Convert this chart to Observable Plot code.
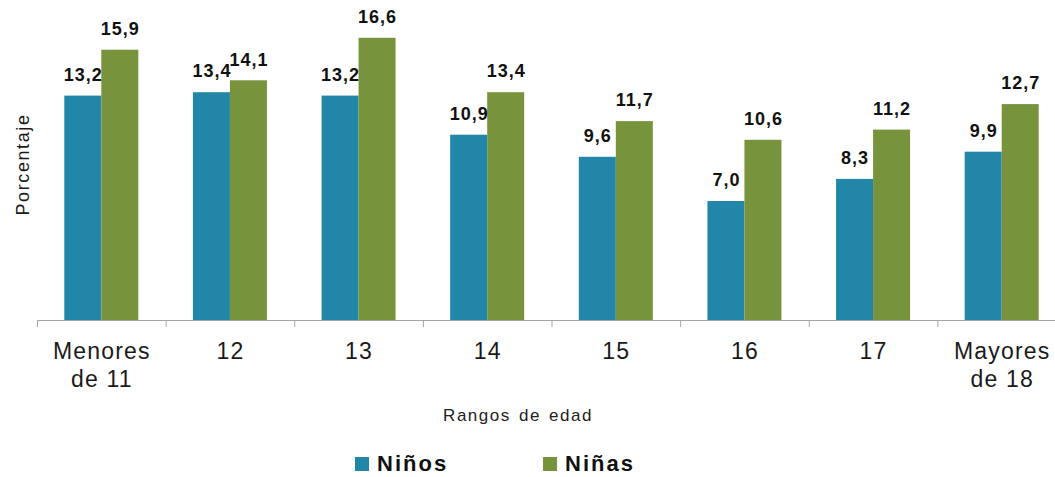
<!DOCTYPE html>
<html>
<head>
<meta charset="utf-8">
<script src="https://cdn.jsdelivr.net/npm/d3@7"></script>
<script src="https://cdn.jsdelivr.net/npm/@observablehq/plot@0.6"></script>
<style>
  html, body { margin: 0; padding: 0; background: #fff; overflow: hidden; }
  #wrap { position: relative; width: 1055px; height: 477px; overflow: hidden; font-family: "Liberation Sans", Arial, sans-serif; }
  #wrap svg { overflow: hidden; }
  #wrap svg g[font-size="23"] { letter-spacing: 1.2px; }
  #wrap svg g[font-weight="bold"] { letter-spacing: 1px; }
  #wrap svg text[transform*="rotate"] { letter-spacing: 1.6px; font-size: 18px; }
  #xtitle { position: absolute; left: 0; width: 1036px; top: 406px; text-align: center; font-size: 17px; letter-spacing: 1.5px; word-spacing: 2px; color: #222; }
  .leg { position: absolute; top: 451px; display: flex; align-items: center; font-size: 22px; font-weight: bold; letter-spacing: 2px; color: #111; }
  .sw { width: 14px; height: 14px; margin-right: 8px; }
</style>
</head>
<body>
<div id="wrap">
  <div id="chart"></div>
  <div id="xtitle"></div>
  <div id="legend"></div>
</div>
<script>
const categories = ["Menores\nde 11", "12", "13", "14", "15", "16", "17", "Mayores\nde 18"];
const series = ["Niños", "Niñas"];
const ninos = [13.2, 13.4, 13.2, 10.9, 9.6, 7.0, 8.3, 9.9];
const ninas = [15.9, 14.1, 16.6, 13.4, 11.7, 10.6, 11.2, 12.7];
const colors = ["#2286a9", "#77933c"];
const xTitle = "Rangos de edad";
const yTitle = "Porcentaje";

const rows = categories.flatMap((c, i) => [
  {i, s: series[0], v: ninos[i]},
  {i, s: series[1], v: ninas[i]}
]);
const half = 0.2877; // each bar's width as a fraction of a category slot
const left = d => d.i + 0.5 + (d.s === series[0] ? -half : 0);
const right = d => d.i + 0.5 + (d.s === series[0] ? 0 : half);
const fmt = v => v.toFixed(1).replace(".", ",");

const chart = Plot.plot({
  width: 1055,
  height: 400,
  marginTop: 14,
  marginBottom: 80,
  marginLeft: 37,
  marginRight: 0,
  style: {fontFamily: "'Liberation Sans', Arial, sans-serif", background: "#fff", overflow: "hidden"},
  x: {type: "linear", domain: [0, categories.length], range: [37, 1066]},
  y: {domain: [0, 18], axis: null},
  color: {domain: series, range: colors},
  marks: [
    Plot.rectY(rows, {x1: left, x2: right, y1: 0, y2: "v", fill: "s"}),
    Plot.ruleY([0], {stroke: "#a6a6a6", strokeWidth: 1.2}),
    Plot.axisX({ticks: d3.range(categories.length + 1), tickFormat: () => "", tickSize: 7, stroke: "#a6a6a6", strokeOpacity: 1}),
    Plot.text(categories, {
      x: (d, i) => i + 0.5, y: 0, text: d => d, lineAnchor: "top", dy: 19,
      fontSize: 23, lineHeight: 1.2, fill: "#1a1a1a"
    }),
    Plot.text(rows, {
      x: d => (left(d) + right(d)) / 2, y: "v", text: d => fmt(d.v), dy: -21,
      fontSize: 18, fontWeight: "bold", fill: "#111"
    }),
    Plot.text([yTitle], {frameAnchor: "left", textAnchor: "middle", rotate: -90, dx: -14, dy: -3, fontSize: 18, fill: "#1a1a1a"})
  ]
});
document.getElementById("chart").appendChild(chart);
document.getElementById("xtitle").textContent = xTitle;

const legend = document.getElementById("legend");
const legLeft = [355, 543];
series.forEach((s, k) => {
  const item = document.createElement("div");
  item.className = "leg";
  item.style.left = legLeft[k] + "px";
  const sw = document.createElement("div");
  sw.className = "sw";
  sw.style.background = colors[k];
  item.appendChild(sw);
  item.appendChild(document.createTextNode(s));
  legend.appendChild(item);
});
</script>
</body>
</html>
